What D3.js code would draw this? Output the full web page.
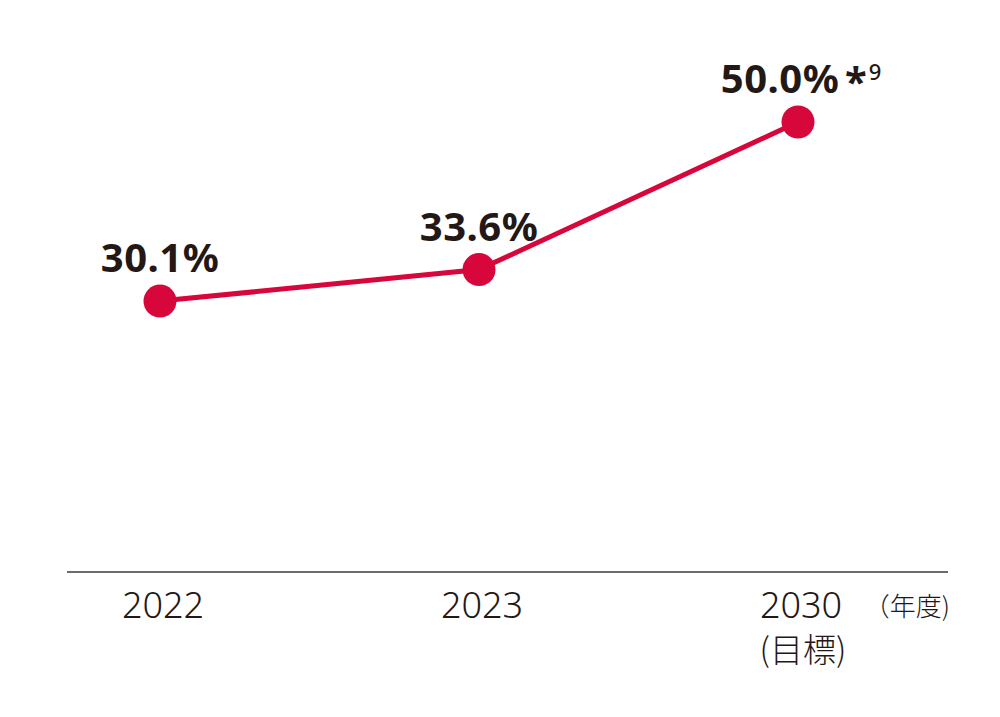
<!DOCTYPE html>
<html>
<head>
<meta charset="utf-8">
<script src="https://cdn.jsdelivr.net/npm/d3@7"></script>
<style>
  body { margin: 0; background: #fff; }
</style>
</head>
<body>
<div id="chart"></div>
<script>
const years = ["2022", "2023", "2030"];
const values = [30.1, 33.6, 50.0];
const valueLabels = ["30.1%", "33.6%", "50.0%"];
const subLabels = ["", "", "(目標)"];

const width = 1000, height = 717;
const color = "#d7063b", ink = "#231815";

const svg = d3.select("#chart").append("svg")
    .attr("width", width)
    .attr("height", height)
    .attr("viewBox", [0, 0, width, height]);

const x = d3.scalePoint().domain(years).range([160, 798]);
const y = d3.scaleLinear().domain([0, 50]).range([572, 122]);

// baseline
svg.append("line")
    .attr("x1", 67).attr("x2", 948)
    .attr("y1", y(0)).attr("y2", y(0))
    .attr("stroke", "#3a3a3a")
    .attr("stroke-width", 1.5);

// x labels
svg.append("g")
  .selectAll("text")
  .data(years)
  .join("text")
    .attr("x", d => x(d) + 3)
    .attr("y", y(0) + 46)
    .attr("text-anchor", "middle")
    .attr("font-family", "Noto Sans, sans-serif")
    .attr("font-weight", 300)
    .attr("font-size", 36)
    .attr("fill", ink)
    .text(d => d);

svg.append("g")
  .selectAll("text")
  .data(years.filter((d, i) => subLabels[i]))
  .join("text")
    .attr("x", d => x(d) + 5)
    .attr("y", y(0) + 90)
    .attr("text-anchor", "middle")
    .attr("font-family", "Noto Sans CJK JP, sans-serif")
    .attr("font-weight", 300)
    .attr("font-size", 33)
    .attr("fill", ink)
    .text(d => subLabels[years.indexOf(d)]);

svg.append("text")
    .attr("x", 950)
    .attr("y", y(0) + 44)
    .attr("text-anchor", "end")
    .attr("font-family", "Noto Sans CJK JP, sans-serif")
    .attr("font-weight", 300)
    .attr("font-size", 26)
    .attr("fill", ink)
    .text("（年度)");

// line
const line = d3.line()
    .x((d, i) => x(years[i]))
    .y(d => y(d));

svg.append("path")
    .datum(values)
    .attr("fill", "none")
    .attr("stroke", color)
    .attr("stroke-width", 5)
    .attr("d", line);

svg.append("g")
  .selectAll("circle")
  .data(values)
  .join("circle")
    .attr("cx", (d, i) => x(years[i]))
    .attr("cy", d => y(d))
    .attr("r", 16.5)
    .attr("fill", color);

// value labels
svg.append("g")
  .selectAll("text")
  .data(values)
  .join("text")
    .attr("x", (d, i) => x(years[i]) + (i === 2 ? -18 : 0))
    .attr("y", d => y(d) - 29)
    .attr("text-anchor", "middle")
    .attr("font-family", "Noto Sans, sans-serif")
    .attr("font-weight", "bold")
    .attr("font-size", 40)
    .attr("letter-spacing", 0.5)
    .attr("fill", ink)
    .text((d, i) => valueLabels[i]);

// footnote mark
svg.append("text")
    .attr("x", x(years[2]) + 47)
    .attr("y", y(values[2]) - 26)
    .attr("font-family", "Noto Sans, sans-serif")
    .attr("font-weight", "bold")
    .attr("font-size", 40)
    .attr("fill", ink)
    .text("*")
  .append("tspan")
    .attr("dx", 2)
    .attr("dy", -16)
    .attr("font-size", 22)
    .attr("font-weight", 500)
    .text("9");
</script>
</body>
</html>
